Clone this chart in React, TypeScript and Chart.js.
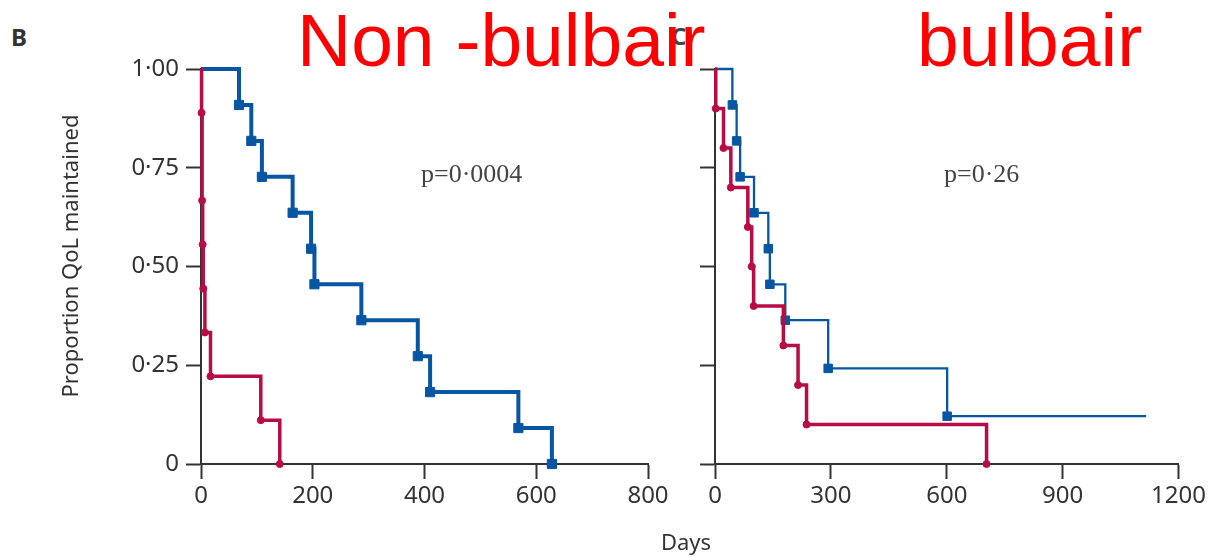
import React, { useEffect, useRef } from 'react';
import { Chart, registerables } from 'chart.js';

Chart.register(...registerables);

// ---- Data ----
const yTickValues = [0, 0.25, 0.5, 0.75, 1];
const yTickLabels = ['0', '0·25', '0·50', '0·75', '1·00'];
const leftXTicks = [0, 200, 400, 600, 800];
const rightXTicks = [0, 300, 600, 900, 1200];

// Non-bulbair panel
const nonBulbarBlueDays = [0, 68, 90, 109, 164, 197, 203, 287, 388, 410, 568, 628];
const nonBulbarBlueSurv = [1, 0.909, 0.818, 0.727, 0.636, 0.545, 0.455, 0.364, 0.273, 0.182, 0.091, 0];
const nonBulbarRedDays = [0, 1, 2, 3, 4, 7, 17, 107, 141];
const nonBulbarRedSurv = [1, 0.889, 0.667, 0.556, 0.444, 0.333, 0.222, 0.111, 0];

// Bulbair panel
const bulbarBlueDays = [0, 45, 56, 65, 101, 138, 142, 182, 293, 601, 1116];
const bulbarBlueSurv = [1, 0.909, 0.818, 0.727, 0.636, 0.545, 0.455, 0.364, 0.242, 0.121, 0.121];
const bulbarRedDays = [0, 2, 22, 41, 85, 95, 100, 177, 215, 237, 703];
const bulbarRedSurv = [1, 0.9, 0.8, 0.7, 0.6, 0.5, 0.4, 0.3, 0.2, 0.1, 0];

const pValueLeft = 'p=0·0004';
const pValueRight = 'p=0·26';

const BLUE = '#0756a4';
const RED = '#b80c45';
const AXIS = '#333333';
const FONT = "'Noto Sans', sans-serif";

function toPoints(xs: number[], ys: number[]) {
  return xs.map((x, i) => ({ x, y: ys[i] }));
}

function makeDataset(xs: number[], ys: number[], color: string, width: number, style: string, radius: number, censoredEnd: boolean) {
  const last = xs.length - 1;
  return {
    data: toPoints(xs, ys),
    borderColor: color,
    backgroundColor: color,
    borderWidth: width,
    stepped: true,
    tension: 0,
    clip: false as any,
    pointStyle: style,
    pointRadius: (ctx: any) => (ctx.dataIndex === 0 || (censoredEnd && ctx.dataIndex === last) ? 0 : radius),
    pointBorderWidth: 1,
    pointBorderColor: color,
    pointBackgroundColor: color,
    borderJoinStyle: 'miter' as const,
  };
}

function makeOptions(xMax: number, xTicks: number[], showYLabels: boolean, yWidth: number, padRight: number) {
  return {
    responsive: false,
    animation: false as const,
    layout: { padding: { top: 69, right: padRight, bottom: 0, left: 0 } },
    plugins: { legend: { display: false }, tooltip: { enabled: false } },
    events: [] as any[],
    scales: {
      x: {
        type: 'linear' as const,
        min: 0,
        max: xMax,
        afterBuildTicks: (scale: any) => {
          scale.ticks = xTicks.map((v) => ({ value: v }));
        },
        afterFit: (scale: any) => {
          scale.height = 93;
        },
        ticks: {
          color: AXIS,
          font: { family: FONT, size: 24 },
          padding: 3,
          maxRotation: 0,
          autoSkip: false,
          callback: (v: any) => String(v),
        },
        grid: { drawOnChartArea: false, drawTicks: true, tickLength: 15, tickWidth: 2, color: AXIS },
        border: { display: true, color: AXIS, width: 2 },
      },
      y: {
        type: 'linear' as const,
        min: 0,
        max: 1,
        afterBuildTicks: (scale: any) => {
          scale.ticks = yTickValues.map((v) => ({ value: v }));
        },
        afterFit: (scale: any) => {
          scale.width = yWidth;
        },
        ticks: {
          display: showYLabels,
          color: AXIS,
          font: { family: FONT, size: 24 },
          padding: 7,
          autoSkip: false,
          callback: (_v: any, i: number) => yTickLabels[i],
        },
        grid: { drawOnChartArea: false, drawTicks: true, tickLength: 15, tickWidth: 2, color: AXIS },
        border: { display: true, color: AXIS, width: 2 },
      },
    },
  };
}

function KMChart(props: { left: number; width: number; datasets: any[]; options: any }) {
  const ref = useRef<HTMLCanvasElement | null>(null);
  useEffect(() => {
    if (!ref.current) return;
    const chart = new Chart(ref.current, {
      type: 'line',
      data: { datasets: props.datasets },
      options: props.options,
    } as any);
    return () => chart.destroy();
  }, []);
  return (
    <canvas
      ref={ref}
      width={props.width}
      height={557}
      style={{ position: 'absolute', left: props.left, top: 0, width: props.width, height: 557 }}
    />
  );
}

export default function App() {
  const leftDatasets = [
    makeDataset(nonBulbarRedDays, nonBulbarRedSurv, RED, 3.5, 'circle', 3.5, false),
    makeDataset(nonBulbarBlueDays, nonBulbarBlueSurv, BLUE, 4, 'rect', 6.5, false),
  ];
  const rightDatasets = [
    makeDataset(bulbarRedDays, bulbarRedSurv, RED, 3.5, 'circle', 3.5, false),
    makeDataset(bulbarBlueDays, bulbarBlueSurv, BLUE, 2.3, 'rect', 6, true),
  ];
  const text: React.CSSProperties = { position: 'absolute', whiteSpace: 'nowrap', lineHeight: 1, margin: 0 };
  return (
    <div style={{ position: 'absolute', left: 0, top: 0, width: 1209, height: 557, background: '#fff', overflow: 'hidden' }}>
      <div style={{ ...text, left: 11, top: 25, fontFamily: FONT, fontWeight: 700, fontSize: 24, color: '#333' }}>B</div>
      <div style={{ ...text, left: 671, top: 24, fontFamily: FONT, fontWeight: 700, fontSize: 24, color: '#444' }}>C</div>
      <KMChart left={0} width={690} datasets={leftDatasets} options={makeOptions(800, leftXTicks, true, 201, 42)} />
      <KMChart left={690} width={519} datasets={rightDatasets} options={makeOptions(1200, rightXTicks, false, 25, 30)} />
      <div
        style={{
          ...text,
          left: 68.5 - 200,
          top: 245,
          width: 400,
          height: 22,
          lineHeight: '22px',
          textAlign: 'center',
          transform: 'rotate(-90deg)',
          fontFamily: FONT,
          fontSize: 22,
          color: '#333',
        }}
      >
        Proportion QoL maintained
      </div>
      <div style={{ ...text, left: 636, top: 530, width: 100, textAlign: 'center', fontFamily: FONT, fontSize: 22, color: '#333' }}>Days</div>
      <div style={{ ...text, left: 421, top: 161, fontFamily: "'Liberation Serif', serif", fontSize: 26, color: '#444' }}>{pValueLeft}</div>
      <div style={{ ...text, left: 944, top: 161, fontFamily: "'Liberation Serif', serif", fontSize: 26, color: '#444' }}>{pValueRight}</div>
      <div style={{ ...text, left: 297, top: 3, fontFamily: "'Liberation Sans', Arial, sans-serif", fontSize: 75, color: '#ff0000' }}>Non -bulbair</div>
      <div style={{ ...text, left: 917, top: 3, fontFamily: "'Liberation Sans', Arial, sans-serif", fontSize: 75, color: '#ff0000' }}>bulbair</div>
    </div>
  );
}
